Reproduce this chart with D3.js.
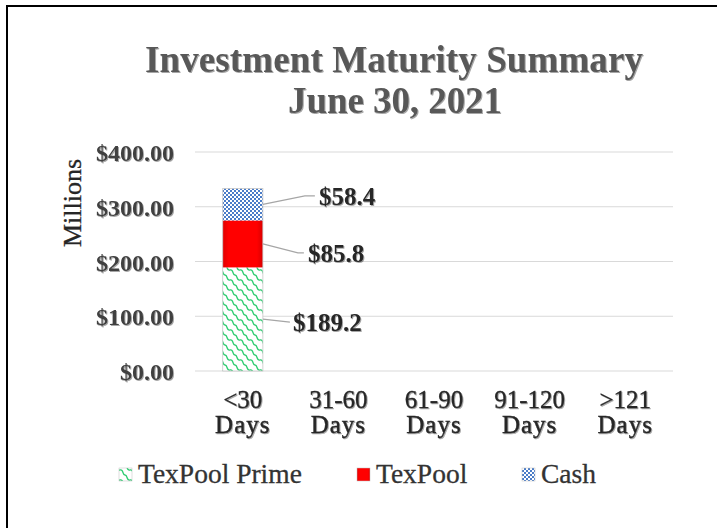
<!DOCTYPE html>
<html><head><meta charset="utf-8">
<script src="https://cdn.jsdelivr.net/npm/d3@7"></script>
<style>
html,body{margin:0;padding:0;background:#fff;}
svg{display:block;}
svg text{font-family:"Liberation Serif","Times New Roman",serif !important;}
</style></head>
<body>
<svg id="c" width="717" height="528"></svg>
<script>
const categories = ["<30 Days", "31-60 Days", "61-90 Days", "91-120 Days", ">121 Days"];
const texPoolPrime = [189.2, 0, 0, 0, 0];
const texPool = [85.8, 0, 0, 0, 0];
const cash = [58.4, 0, 0, 0, 0];
const seriesNames = ["TexPool Prime", "TexPool", "Cash"];
const yTicks = [0, 100, 200, 300, 400];

const svg = d3.select("#c");
const W = 717, H = 528;
const SERIF = "Liberation Serif, Times New Roman, serif";
svg.append("rect").attr("width", W).attr("height", H).attr("fill", "#fff");

// border (top + left visible)
svg.append("path").attr("d", "M7,528 V6 H717").attr("fill", "none").attr("stroke", "#000").attr("stroke-width", 2);

const defs = svg.append("defs");
const sh = defs.append("filter").attr("id", "shadow").attr("x", "-5%").attr("y", "-20%").attr("width", "110%").attr("height", "140%");
sh.append("feDropShadow").attr("dx", 1).attr("dy", 1).attr("stdDeviation", 0.6).attr("flood-color", "#000").attr("flood-opacity", 0.35);

// green diagonal wave pattern
const pg = defs.append("pattern").attr("id", "pGreen").attr("patternUnits", "userSpaceOnUse").attr("width", 10).attr("height", 10);
pg.append("rect").attr("width", 10).attr("height", 10).attr("fill", "#fff");
const wave = "C4,-1 2,5 5,5 C8,5 6,11 10,10";
[[0,0],[-10,0],[10,0],[0,-10],[0,10]].forEach(([ox, oy]) => {
  pg.append("path").attr("d", `M${ox},${oy} ` + wave.replace(/(-?\d+),(-?\d+)/g, (m, a, b) => `${+a + ox},${+b + oy}`))
    .attr("stroke", "#2ecc71").attr("stroke-width", 1.3).attr("fill", "none");
});
// blue checker pattern
const pb = defs.append("pattern").attr("id", "pBlue").attr("patternUnits", "userSpaceOnUse").attr("width", 4).attr("height", 4);
pb.append("rect").attr("width", 4).attr("height", 4).attr("fill", "#ffffff");
pb.append("rect").attr("width", 2).attr("height", 2).attr("fill", "#4a7cc8");
pb.append("rect").attr("x", 2).attr("y", 2).attr("width", 2).attr("height", 2).attr("fill", "#4a7cc8");
// red gradient
const rg = defs.append("linearGradient").attr("id", "gRed").attr("x1", 0).attr("x2", 1).attr("y1", 0).attr("y2", 0);
rg.append("stop").attr("offset", "0%").attr("stop-color", "#e00000");
rg.append("stop").attr("offset", "15%").attr("stop-color", "#ff0000");
rg.append("stop").attr("offset", "85%").attr("stop-color", "#ff0000");
rg.append("stop").attr("offset", "100%").attr("stop-color", "#d80000");

const fills = ["url(#pGreen)", "url(#gRed)", "url(#pBlue)"];

const x = d3.scaleBand().domain(categories).range([195, 673]).paddingInner(0.58).paddingOuter(0.29);
const y = d3.scaleLinear().domain([0, 400]).range([371, 152]);

// gridlines
svg.append("g").selectAll("line").data(yTicks).join("line")
  .attr("x1", 195).attr("x2", 673).attr("y1", d => y(d)).attr("y2", d => y(d))
  .attr("stroke", "#d9d9d9").attr("stroke-width", 1);

// y axis labels
const yAxis = d3.axisLeft(y).tickValues(yTicks).tickSize(0).tickPadding(21)
  .tickFormat(d => "$" + d3.format(",.2f")(d));
const ga = svg.append("g").attr("transform", "translate(195,0)").call(yAxis)
  .attr("font-family", SERIF);
ga.select(".domain").remove();
ga.selectAll("text").attr("font-size", 24).attr("font-weight", "bold").attr("fill", "#404040")
  .attr("dy", "0.36em").attr("filter", "url(#shadow)");

// y title
svg.append("text").attr("transform", "translate(81,203) rotate(-90)").attr("text-anchor", "middle")
  .attr("font-family", SERIF).attr("font-size", 26).attr("fill", "#262626")
  .attr("stroke", "#262626").attr("stroke-width", 0.3).text("Millions");

// stacked bars
const rows = categories.map((c, i) => ({cat: c, "TexPool Prime": texPoolPrime[i], "TexPool": texPool[i], "Cash": cash[i]}));
const stack = d3.stack().keys(seriesNames)(rows);
const gb = svg.append("g");
stack.forEach((s, si) => {
  gb.selectAll(null).data(s.filter(d => d[1] - d[0] > 0)).join("rect")
    .attr("x", d => x(d.data.cat)).attr("width", x.bandwidth())
    .attr("y", d => y(d[1])).attr("height", d => y(d[0]) - y(d[1]))
    .attr("fill", fills[si]);
});
gb.selectAll(null).data(stack[2].filter(d => d[1] > 0)).join("rect")
  .attr("x", d => x(d.data.cat)).attr("width", x.bandwidth())
  .attr("y", d => y(d[1])).attr("height", d => y(0) - y(d[1]))
  .attr("fill", "none").attr("stroke", "#c8c8c8").attr("stroke-width", 0.8);

// data labels with leader lines
const labelOffsets = [ {dx: 30, dy: 3, lx: 27}, {dx: 45, dy: 9, lx: 35}, {dx: 56, dy: -8.5, lx: 42} ];
stack.forEach((s, si) => {
  s.forEach(d => {
    const v = d[1] - d[0];
    if (v <= 0) return;
    const bx = x(d.data.cat) + x.bandwidth();
    const my = y((d[0] + d[1]) / 2);
    const o = labelOffsets[si];
    const tx = bx + o.dx, ty = my + o.dy;
    svg.append("polyline").attr("points", `${bx},${my} ${bx + o.lx},${ty} ${tx - 4},${ty}`)
      .attr("fill", "none").attr("stroke", "#a6a6a6").attr("stroke-width", 1.2);
    svg.append("text").attr("x", tx).attr("y", ty).attr("dy", "0.36em")
      .attr("font-family", SERIF).attr("font-size", 25).attr("font-weight", "bold").attr("fill", "#262626")
      .attr("filter", "url(#shadow)")
      .text("$" + d3.format(".1f")(v));
  });
});

// category labels
const gc = svg.append("g");
categories.forEach(c => {
  const parts = c.split(" ");
  const cx = x(c) + x.bandwidth() / 2;
  gc.append("text").attr("x", cx).attr("y", 408).attr("text-anchor", "middle")
    .attr("font-family", SERIF).attr("font-size", 25).attr("fill", "#262626")
    .attr("stroke", "#262626").attr("stroke-width", 0.3).attr("filter", "url(#shadow)").text(parts[0]);
  gc.append("text").attr("x", cx).attr("y", 433).attr("text-anchor", "middle")
    .attr("font-family", SERIF).attr("font-size", 25).attr("letter-spacing", 1).attr("fill", "#262626")
    .attr("stroke", "#262626").attr("stroke-width", 0.4).attr("filter", "url(#shadow)").text(parts[1]);
});

// title
svg.append("text").attr("x", 394).attr("y", 72).attr("text-anchor", "middle")
  .attr("font-family", SERIF).attr("font-size", 37).attr("font-weight", "bold").attr("fill", "#595959")
  .attr("textLength", 498).attr("lengthAdjust", "spacing").attr("filter", "url(#shadow)")
  .text("Investment Maturity Summary");
svg.append("text").attr("x", 395).attr("y", 113).attr("text-anchor", "middle")
  .attr("font-family", SERIF).attr("font-size", 37).attr("font-weight", "bold").attr("fill", "#595959")
  .attr("textLength", 214).attr("lengthAdjust", "spacing").attr("filter", "url(#shadow)")
  .text("June 30, 2021");

// legend
const legX = [119, 357, 522];
const gl = svg.append("g");
seriesNames.forEach((n, i) => {
  gl.append("rect").attr("x", legX[i]).attr("y", 468).attr("width", 13).attr("height", 13)
    .attr("fill", fills[i]).attr("stroke", "#bfbfbf").attr("stroke-width", 0.5);
  gl.append("text").attr("x", legX[i] + 19).attr("y", 483)
    .attr("font-family", SERIF).attr("font-size", 27.5).attr("fill", "#333")
    .attr("stroke", "#333").attr("stroke-width", 0.3).text(n);
});
</script>
</body></html>
